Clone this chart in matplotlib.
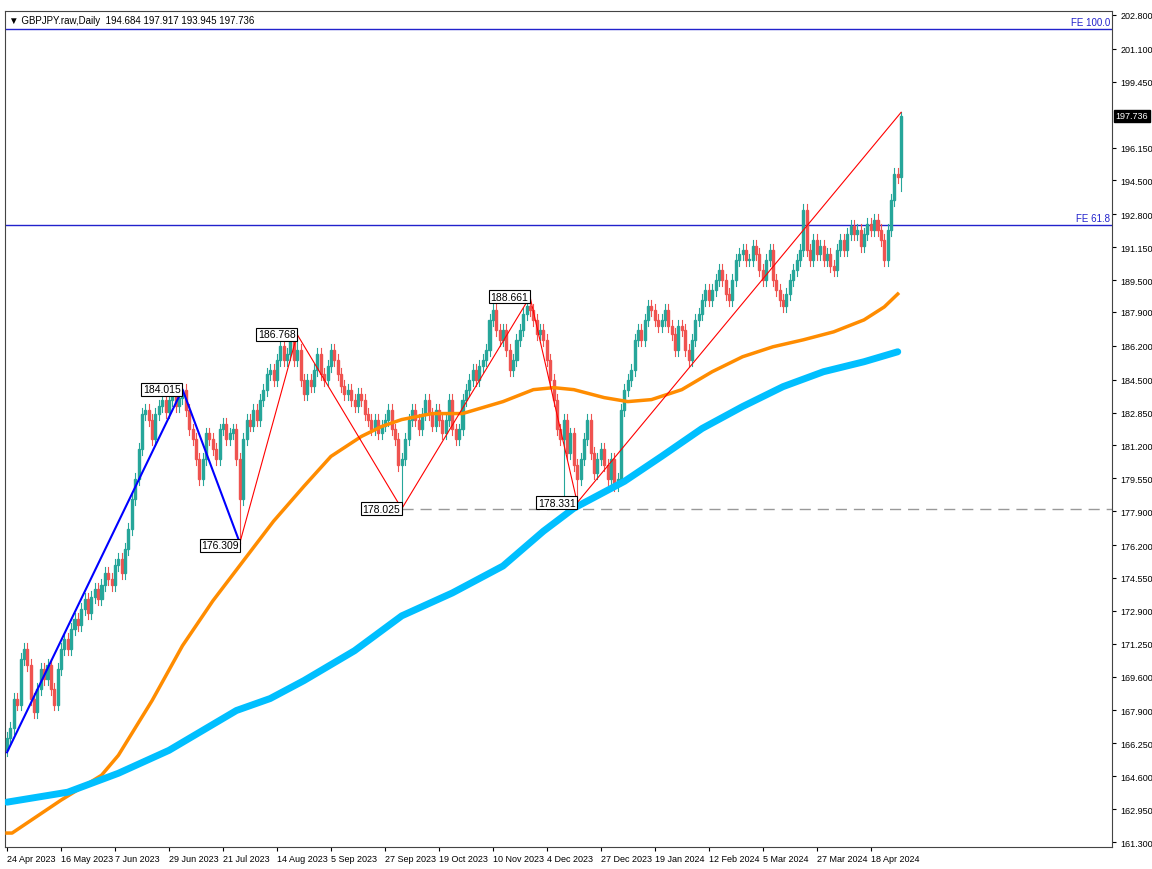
import matplotlib
matplotlib.use("Agg")
import matplotlib.pyplot as plt
from matplotlib.patches import Rectangle

plt.rcParams['font.family'] = ['Liberation Sans', 'DejaVu Sans']

closes = [
166.5,167.0,168.5,168.2,170.5,171.0,170.2,168.5,167.8,169.0,170.0,169.5,170.2,
169.0,168.2,170.0,171.0,171.5,171.0,172.0,172.5,172.2,173.0,173.5,172.8,173.6,
174.0,173.5,174.2,174.8,174.5,174.2,175.2,175.5,174.8,176.0,177.0,178.5,179.5,
181.0,182.8,183.0,182.5,181.5,182.8,183.2,183.5,182.9,183.5,183.8,183.2,183.6,
184.0,183.0,182.0,181.5,180.5,179.5,180.5,181.8,181.5,181.0,180.5,182.0,182.3,
181.5,181.8,182.0,180.5,178.5,181.5,182.5,182.2,183.0,182.5,183.5,184.0,184.8,
185.0,184.5,185.5,186.2,185.5,185.8,186.5,185.5,186.0,184.5,183.8,184.5,184.2,
185.0,185.8,184.8,184.5,185.2,186.0,185.5,184.8,184.2,183.8,184.0,183.5,183.2,
183.8,183.5,182.8,182.5,182.0,182.5,181.8,182.2,182.5,183.0,182.0,181.5,180.2,
180.5,181.5,182.5,183.0,182.5,182.0,182.8,183.5,182.8,182.2,183.0,182.5,181.8,
182.5,183.5,182.0,181.5,182.0,183.5,184.0,184.5,185.0,184.5,185.2,185.5,186.0,
187.5,188.0,187.0,186.5,187.0,186.0,185.0,185.5,186.5,187.0,187.8,188.2,188.0,
187.5,186.8,187.0,186.5,185.5,184.5,183.5,182.0,181.5,182.5,180.8,181.8,180.2,
179.5,180.5,181.5,182.5,180.8,179.8,180.5,181.0,180.2,179.5,180.5,179.2,179.5,
183.0,184.0,184.5,185.0,186.5,187.0,186.5,187.5,188.2,188.0,187.5,187.2,187.5,
188.0,187.2,186.8,186.0,187.2,187.0,186.0,185.5,186.5,187.5,187.8,188.5,189.0,
188.5,189.0,189.5,190.0,189.5,188.8,188.5,189.5,190.5,190.8,191.0,190.5,190.5,
191.2,190.8,190.0,189.5,190.5,191.0,189.5,189.0,188.5,188.2,188.8,189.5,190.0,
190.5,191.0,193.0,191.0,190.5,191.5,190.8,191.2,190.5,190.8,190.2,190.0,191.0,
191.5,191.0,191.8,192.2,191.8,192.0,191.2,191.8,192.3,192.0,192.5,192.0,191.5,
190.5,192.0,193.5,194.8,194.684,197.736]
first_open = 165.9
extreme_highs = {52: 184.015, 86: 186.768, 155: 188.661, 236: 193.3, 265: 197.917}
extreme_lows = {0: 165.6, 69: 176.309, 117: 178.025, 165: 178.5, 169: 178.331, 265: 193.945}

date_labels = ["24 Apr 2023","16 May 2023","7 Jun 2023","29 Jun 2023","21 Jul 2023",
"14 Aug 2023","5 Sep 2023","27 Sep 2023","19 Oct 2023","10 Nov 2023","4 Dec 2023",
"27 Dec 2023","19 Jan 2024","12 Feb 2024","5 Mar 2024","27 Mar 2024","18 Apr 2024"]
date_bars = [0,16,32,48,64,80,96,112,128,144,160,176,192,208,224,240,256]

ytick_vals = [202.8,201.1,199.45,196.15,194.5,192.8,191.15,189.5,187.9,186.2,184.5,182.85,
181.2,179.55,177.9,176.2,174.55,172.9,171.25,169.6,167.9,166.25,164.6,162.95,161.3]

ma_orange_x = [0,1.5,16,28,33,43,52,61,70,79,88,96,105,111,117,126,135,147,156,162,168,177,184,191,200,209,218,227,236,245,254,260,264]
ma_orange_y = [161.75,161.75,163.4,164.65,165.65,168.4,171.15,173.4,175.4,177.4,179.15,180.65,181.65,182.15,182.5,182.8,182.8,183.4,184.0,184.1,184.0,183.6,183.4,183.5,184.0,184.9,185.65,186.15,186.5,186.9,187.5,188.15,188.8]
ma_cyan_x = [0,18,33,48,58,68,78,88,103,117,132,147,159,168,183,194,206,218,230,242,254,264]
ma_cyan_y = [163.3,163.8,164.75,165.9,166.9,167.9,168.5,169.4,170.9,172.65,173.8,175.15,176.9,178.05,179.4,180.65,182.05,183.15,184.15,184.9,185.4,185.9]

zz_blue = [(0,165.8),(52,184.015),(69,176.309)]
zz_red = [(69,176.309),(86,186.768),(117,178.025),(155,188.661),(169,178.331),(265,197.917)]
fe_levels = [(202.1,"FE 100.0"),(192.25,"FE 61.8")]

fig = plt.figure(figsize=(11.52,8.7), dpi=100)
ax = fig.add_axes([5/1152, 22/870, 1107/1152, 836/870])
ax.set_xlim(-0.6, 327.5)
ax.set_ylim(161.05, 203.0)

up, dn = "#26a69a", "#ef5350"
prev = first_open
for i, c in enumerate(closes):
    o = prev if i != 265 else 194.684
    hi = extreme_highs.get(i, max(o, c) + 0.3)
    lo = extreme_lows.get(i, min(o, c) - 0.3)
    col = up if c >= o else dn
    ax.plot([i, i], [lo, hi], color=col, lw=0.8, zorder=2)
    ax.add_patch(Rectangle((i - 0.3, min(o, c)), 0.6, max(abs(c - o), 0.05), color=col, zorder=3))
    prev = c

ax.plot(ma_orange_x, ma_orange_y, color="#ff8c00", lw=2.5, zorder=4)
ax.plot(ma_cyan_x, ma_cyan_y, color="#00bfff", lw=5, zorder=4, solid_capstyle="round", solid_joinstyle="round")

bx, by = zip(*zz_blue)
ax.plot(bx, by, color="#0000ff", lw=1.5, zorder=5)
rx, ry = zip(*zz_red)
ax.plot(rx, ry, color="#ff0000", lw=0.8, zorder=5)

for y, lab in fe_levels:
    ax.axhline(y, color="#2222cc", lw=1.0, zorder=1)
    ax.text(327, y + 0.12, lab, color="#2222cc", fontsize=7, ha="right", va="bottom")

ax.plot([117, 327.5], [178.025, 178.025], color="#999999", lw=1, ls=(0, (8, 5)), zorder=1)

box = dict(boxstyle="square,pad=0.15", fc="white", ec="black", lw=0.8)
for (bxi, val) in [(52,184.015),(86,186.768),(117,178.025),(155,188.661),(169,178.331),(69,176.309)]:
    yy = val if bxi != 69 else 176.2
    xx = bxi - 0.5 if bxi != 69 else bxi - 0.3
    ax.text(xx, yy, f"{val:.3f}", fontsize=7.5, ha="right", va="center", bbox=box, zorder=6)

ax.yaxis.tick_right()
ax.set_yticks(ytick_vals)
ax.set_yticklabels([f"{v:.3f}" for v in ytick_vals], fontsize=6.5)
ax.tick_params(axis="y", length=3, pad=3)
ax.set_xticks(date_bars)
ax.set_xticklabels(date_labels, fontsize=6.5, ha="left")
ax.tick_params(axis="x", length=3, pad=2)
ax.text(1.003, (197.736 - 161.05) / (203.0 - 161.05), "197.736", transform=ax.transAxes,
        fontsize=6.5, color="white", ha="left", va="center",
        bbox=dict(boxstyle="square,pad=0.2", fc="black", ec="black"))
ax.text(0.004, 0.995, "\u25bc GBPJPY.raw,Daily  194.684 197.917 193.945 197.736",
        transform=ax.transAxes, fontsize=7, ha="left", va="top")
for s in ax.spines.values():
    s.set_color("#444444")
fig.savefig("out.png", dpi=100)
